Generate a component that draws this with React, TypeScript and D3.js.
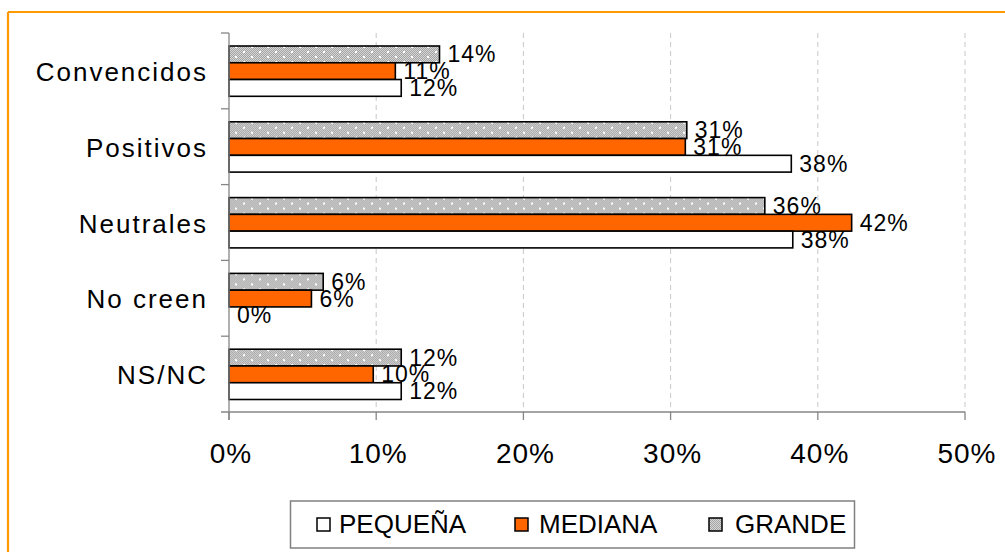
import React from 'react'
import { scaleLinear, scaleBand } from 'd3'

// values (percent)
const categories = ['Convencidos', 'Positivos', 'Neutrales', 'No creen', 'NS/NC']
const pequena = [11.7, 38.2, 38.3, 0, 11.7]
const mediana = [11.3, 31.0, 42.3, 5.6, 9.8]
const grande = [14.3, 31.1, 36.4, 6.4, 11.7]
const seriesNames = ['GRANDE', 'MEDIANA', 'PEQUEÑA'] // top to bottom inside a group
const legendNames = ['PEQUEÑA', 'MEDIANA', 'GRANDE']
const xTicks = [0, 10, 20, 30, 40, 50]

const W = 1005
const H = 552
const FONT = '"Liberation Sans", Arial, sans-serif'

const fills: Record<string, string> = {
  PEQUEÑA: '#ffffff',
  MEDIANA: '#ff6600',
  GRANDE: 'url(#dots)',
}
const values: Record<string, number[]> = {
  PEQUEÑA: pequena,
  MEDIANA: mediana,
  GRANDE: grande,
}

const App = () => {
  const top = 33
  const axisY = 412

  const x = scaleLinear().domain([0, 50]).range([229, 965])
  const y0 = scaleBand().domain(categories).range([top, axisY])
  const bw = y0.bandwidth()
  const y1 = scaleBand().domain(seriesNames).range([13, bw - 12.5])

  const legendX = [317, 515, 709]
  const legendTextX = [339, 539, 735]

  return (
    <svg
      width={W}
      height={H}
      style={{ position: 'absolute', left: 0, top: 0, background: '#fff' }}
      fontFamily={FONT}
    >
      <defs>
        <pattern id="checker" width="2" height="2" patternUnits="userSpaceOnUse">
          <rect width="2" height="2" fill="#d6d6d6" />
          <rect width="1" height="1" fill="#a4a4a4" />
          <rect x="1" y="1" width="1" height="1" fill="#a4a4a4" />
        </pattern>
        <pattern id="dots" width="16" height="10" patternUnits="userSpaceOnUse" y="46">
          <rect width="16" height="10" fill="url(#checker)" />
          <rect x="3" y="2" width="2" height="2" fill="#fff" />
          <rect x="11" y="7" width="2" height="2" fill="#fff" />
        </pattern>
      </defs>

      {/* orange frame (partly off page) */}
      <line x1={8} y1={12} x2={W} y2={12} stroke="#ff9900" strokeWidth={2.2} />
      <line x1={8} y1={12} x2={8} y2={H} stroke="#ff9900" strokeWidth={2.2} />

      {/* gridlines */}
      {xTicks.slice(1).map((t) => (
        <line
          key={'g' + t}
          x1={x(t)}
          x2={x(t)}
          y1={top}
          y2={axisY}
          stroke="#c8c8c8"
          strokeDasharray="5,4"
        />
      ))}

      {/* bars */}
      {categories.map((c, i) => (
        <g key={c} transform={`translate(0, ${y0(c)})`}>
          {seriesNames.map((s) => (
            <rect
              key={s}
              x={x(0)}
              y={y1(s)}
              width={Math.max(0, x(values[s][i]) - x(0))}
              height={y1.bandwidth()}
              fill={fills[s]}
              stroke={values[s][i] > 0 ? '#000' : 'none'}
              strokeWidth={1.6}
            />
          ))}
        </g>
      ))}

      {/* value labels */}
      {categories.map((c, i) => (
        <g key={'l' + c} transform={`translate(0, ${y0(c)})`}>
          {seriesNames.map((s) => (
            <text
              key={s}
              x={x(values[s][i]) + 8}
              y={(y1(s) as number) + y1.bandwidth() / 2 + 8}
              fontSize={23}
              letterSpacing={1}
              fill="#000"
            >
              {Math.round(values[s][i]) + '%'}
            </text>
          ))}
        </g>
      ))}

      {/* y axis */}
      <line x1={x(0)} x2={x(0)} y1={top} y2={420} stroke="#868686" strokeWidth={1.3} />
      {categories.map((c) => (
        <line
          key={'yt' + c}
          x1={x(0) - 8}
          x2={x(0)}
          y1={y0(c)}
          y2={y0(c)}
          stroke="#868686"
          strokeWidth={1.3}
        />
      ))}
      {categories.map((c) => (
        <text
          key={'yl' + c}
          x={208}
          y={(y0(c) as number) + bw / 2 + 10}
          textAnchor="end"
          fontSize={26}
          letterSpacing={2}
        >
          {c}
        </text>
      ))}

      {/* x axis */}
      <line x1={x(0) - 8} x2={x(50)} y1={axisY} y2={axisY} stroke="#868686" strokeWidth={1.3} />
      {xTicks.map((t) => (
        <g key={'xt' + t}>
          <line x1={x(t)} x2={x(t)} y1={axisY} y2={420} stroke="#868686" strokeWidth={1.3} />
          <text x={x(t) + 2} y={463} textAnchor="middle" fontSize={28} letterSpacing={1}>
            {t + '%'}
          </text>
        </g>
      ))}

      {/* legend */}
      <rect x={290.5} y={501} width={564} height={47} fill="#fff" stroke="#808080" strokeWidth={1.5} />
      {legendNames.map((s, i) => (
        <g key={'lg' + s}>
          <rect
            x={legendX[i]}
            y={518}
            width={13}
            height={13}
            fill={s === 'GRANDE' ? 'url(#checker)' : fills[s]}
            stroke="#000"
            strokeWidth={1.5}
          />
          <text x={legendTextX[i]} y={533} fontSize={26}>
            {s}
          </text>
        </g>
      ))}
    </svg>
  )
}

export default App
